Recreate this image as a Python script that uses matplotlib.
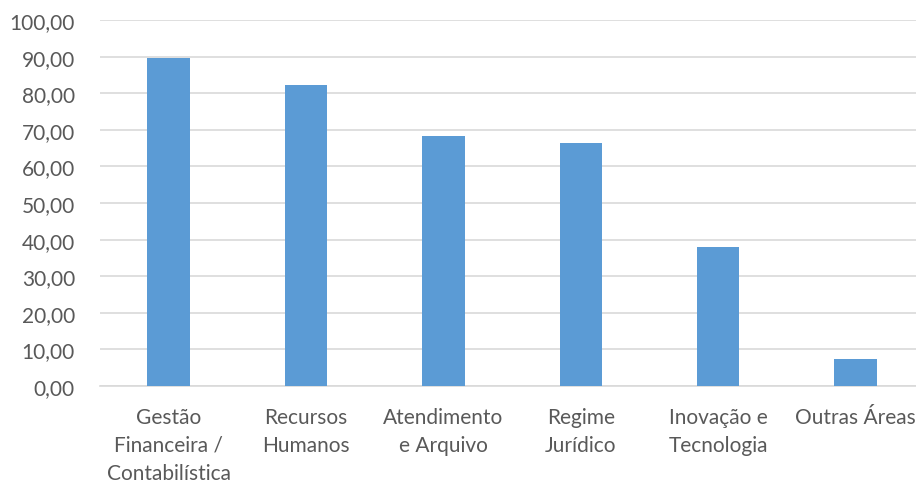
import numpy as np
import matplotlib
matplotlib.use('Agg')
import matplotlib.pyplot as plt
from matplotlib.ticker import FuncFormatter

plt.rcParams['font.family'] = ['Lato', 'DejaVu Sans']

# data
categorias = ['Gestão\nFinanceira /\nContabilística', 'Recursos\nHumanos',
              'Atendimento\ne Arquivo', 'Regime\nJurídico',
              'Inovação e\nTecnologia', 'Outras Áreas']
valores = [89.5, 82.2, 68.3, 66.3, 37.9, 7.4]
yticks = np.arange(0, 101, 10)

fig = plt.figure(figsize=(9.16, 4.89), dpi=100)
ax = fig.add_axes([100 / 916, 1 - 387 / 489, 1 - 100 / 916, (387 - 21) / 489])

x = np.arange(len(categorias))
ax.bar(x, valores, width=0.31, color='#5b9bd5', zorder=3)

ax.set_xlim(-0.5, 5.44)
ax.set_ylim(0, 100)
ax.set_yticks(yticks)
ax.yaxis.set_major_formatter(FuncFormatter(lambda v, p: ('%.2f' % v).replace('.', ',')))
ax.set_xticks(x)
ax.set_xticklabels(categorias, linespacing=1.5)

ax.grid(axis='y', color='#d9d9d9', linewidth=1.2, zorder=0)
for s in ['top', 'right', 'left']:
    ax.spines[s].set_visible(False)
ax.spines['bottom'].set_color('#d9d9d9')
ax.spines['bottom'].set_linewidth(1.2)
ax.tick_params(axis='both', length=0, labelcolor='#595959', labelsize=15)
ax.tick_params(axis='y', pad=18)
ax.tick_params(axis='x', pad=15)
for lbl in ax.get_yticklabels():
    lbl.set_horizontalalignment('right')

fig.savefig('out.png', dpi=100)
